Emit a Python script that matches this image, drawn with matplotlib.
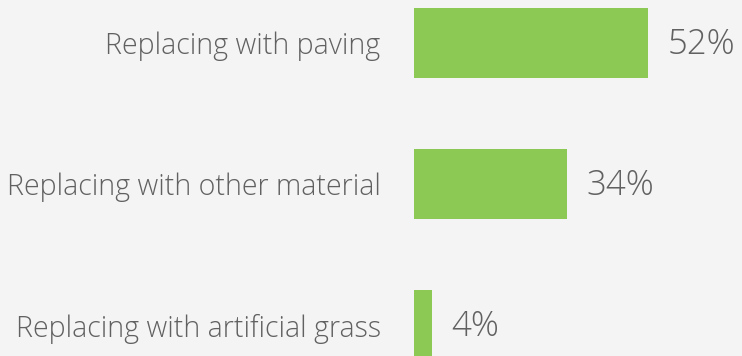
import matplotlib.pyplot as plt

# Survey answers and their shares
categories = ["Replacing with paving", "Replacing with other material", "Replacing with artificial grass"]
shares = [52, 34, 4]

bg = "#f4f4f4"
green = "#8bc954"
grey = "#616161"

plt.rcParams["font.family"] = ["Open Sans", "DejaVu Sans"]

fig = plt.figure(figsize=(7.42, 3.56), dpi=100, facecolor=bg)
# axes spans from the bar baseline to the right edge
ax = fig.add_axes([414 / 742, 0, 328 / 742, 1])
ax.set_facecolor(bg)

pos = list(range(len(categories)))
ax.barh(pos, shares, height=0.496, color=green)
ax.set_xlim(0, 328 / 4.5)
ax.set_ylim(2.22, -0.305)

ax.set_yticks(pos)
ax.set_yticklabels(categories, fontsize=20.6, color=grey, fontweight="light")
ax.tick_params(axis="y", length=0, pad=24)
ax.set_xticks([])
for s in ax.spines.values():
    s.set_visible(False)

for p, v in zip(pos, shares):
    ax.annotate(f"{v}%", (v, p + 0.01), xytext=(14, 0), textcoords="offset points",
                va="center", ha="left", fontsize=25, color=grey, fontweight="light")

fig.savefig("out.png", dpi=100, facecolor=bg)
